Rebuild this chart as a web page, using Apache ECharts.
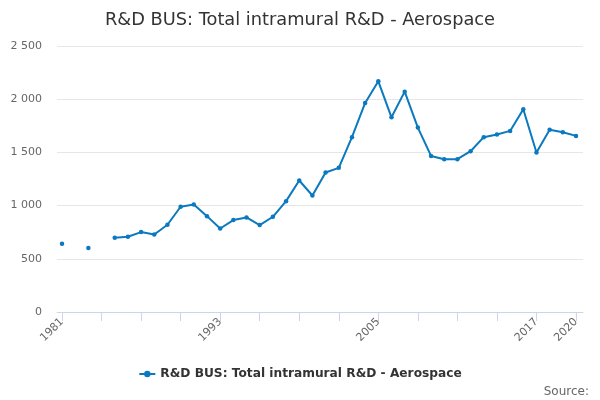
<!DOCTYPE html>
<html>
<head>
<meta charset="utf-8">
<script src="https://cdn.jsdelivr.net/npm/echarts@6/dist/echarts.min.js"></script>
<style>html,body{margin:0;padding:0;background:#fff}#c{width:600px;height:400px}</style>
</head>
<body>
<div id="c"></div>
<script>
const years = [1981,1982,1983,1984,1985,1986,1987,1988,1989,1990,1991,1992,1993,1994,1995,1996,1997,1998,1999,2000,2001,2002,2003,2004,2005,2006,2007,2008,2009,2010,2011,2012,2013,2014,2015,2016,2017,2018,2019,2020];
const values = [641,null,601,null,698,707,751,729,820,989,1011,901,785,864,889,817,895,1042,1236,1095,1311,1355,1643,1965,2168,1830,2071,1733,1467,1436,1436,1511,1643,1668,1702,1905,1499,1712,1690,1655];
const tickYears = [1981,1984,1987,1990,1993,1996,1999,2002,2005,2008,2011,2014,2017,2020];
const labelYears = [1981,1993,2005,2017,2020];
const seriesName = 'R&D BUS: Total intramural R&D - Aerospace';
const titleText = 'R&D BUS: Total intramural R&D - Aerospace';
const sourceText = 'Source:';

const chart = echarts.init(document.getElementById('c'), null, {renderer:'canvas'});
const font = '"DejaVu Sans", sans-serif';
chart.setOption({
  animation: false,
  textStyle: {fontFamily: font},
  title: [{
    text: titleText, left: 'center', top: 6,
    textStyle: {fontFamily: font, fontSize: 17.8, fontWeight: 'normal', color: '#333'}
  },{
    text: sourceText, right: 6, top: 381,
    textStyle: {fontFamily: font, fontSize: 12, fontWeight: 'normal', color: '#666'}
  }],
  legend: {
    bottom: 15, left: 'center', itemWidth: 16, itemHeight: 8, itemGap: 10,
    textStyle: {fontFamily: font, fontSize: 12.2, fontWeight: 'bold', color: '#333'},
    data: [seriesName]
  },
  grid: {left: 57, right: 17, top: 46, bottom: 88, containLabel: false},
  xAxis: {
    type: 'value', min: 1980.62, max: 2020.53,
    axisLine: {show: true, lineStyle: {color: '#ccd6eb', width: 1}},
    axisTick: {show: true, length: 9, lineStyle: {color: '#ccd6eb'}, customValues: tickYears},
    axisLabel: {customValues: labelYears, rotate: 45, color: '#666', fontSize: 11, fontFamily: font, margin: 8,
      formatter: v => String(v)},
    splitLine: {show: false}
  },
  yAxis: {
    type: 'value', min: 0, max: 2500, interval: 500,
    axisLine: {show: false}, axisTick: {show: false},
    axisLabel: {color: '#666', fontSize: 11, fontFamily: font, margin: 15,
      formatter: v => String(v).replace(/\B(?=(\d{3})+(?!\d))/g, ' ')},
    splitLine: {lineStyle: {color: '#e6e6e6', width: 1}}
  },
  series: [{
    name: seriesName, type: 'line',
    data: years.map((y,i) => [y, values[i]]),
    connectNulls: false,
    showSymbol: true, symbol: 'circle', symbolSize: 4.5,
    itemStyle: {color: '#0b79bf'},
    lineStyle: {color: '#0b79bf', width: 2}
  }]
});
</script>
</body>
</html>
